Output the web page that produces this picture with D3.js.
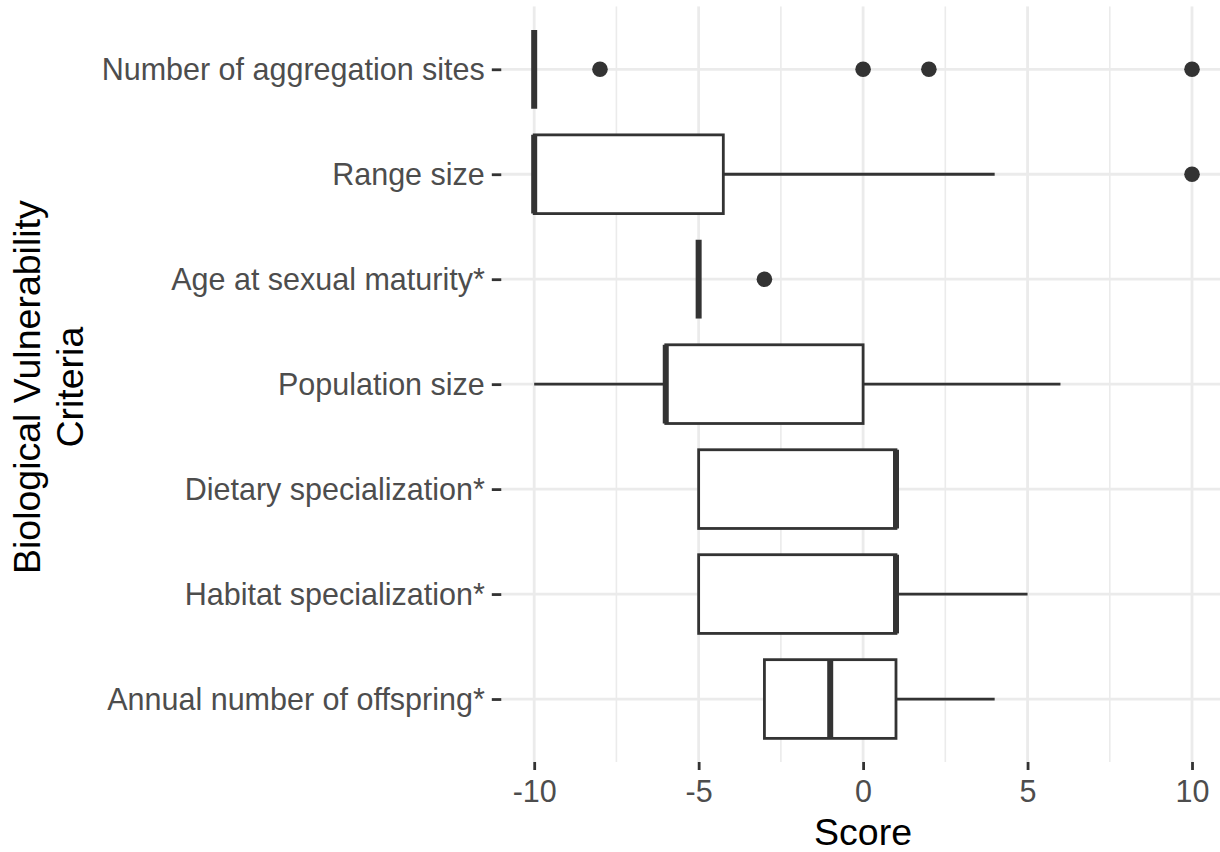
<!DOCTYPE html>
<html>
<head>
<meta charset="utf-8">
<script src="https://cdn.jsdelivr.net/npm/d3@7"></script>
<style>
  html, body { margin: 0; padding: 0; background: #ffffff; }
  svg { display: block; font-family: "Liberation Sans", Arial, sans-serif; }
</style>
</head>
<body>
<svg id="chart" width="1220" height="852"></svg>
<script>
// ---- data (top to bottom) ----
const categories = [
  "Number of aggregation sites",
  "Range size",
  "Age at sexual maturity*",
  "Population size",
  "Dietary specialization*",
  "Habitat specialization*",
  "Annual number of offspring*"
];
const whiskerLow  = [-10, -10, -5, -10, -5, -5, -3];
const q1          = [-10, -10, -5,  -6, -5, -5, -3];
const medians     = [-10, -10, -5,  -6,  1,  1, -1];
const q3          = [-10, -4.25, -5, 0,  1,  1,  1];
const whiskerHigh = [-10,   4, -5,   6,  1,  5,  4];
const outliers    = [[-8, 0, 2, 10], [10], [-3], [], [], [], []];
const xTicks      = [-10, -5, 0, 5, 10];
const xMinorTicks = [-7.5, -2.5, 2.5, 7.5];
const xDomain     = [-11, 11];
const xTitle = "Score";
const yTitleLines = ["Biological Vulnerability", "Criteria"];

// ---- layout ----
const panel = { left: 501.3, right: 1224.9, top: 6.3, bottom: 762 };
const svg = d3.select("#chart");

const x = d3.scaleLinear().domain(xDomain).range([panel.left, panel.right]);
const y = d3.scalePoint().domain(categories).range([panel.top, panel.bottom]).padding(0.6);
const boxH = 0.75 * y.step();

const rows = categories.map((c, i) => ({
  cat: c, lo: whiskerLow[i], q1: q1[i], med: medians[i], q3: q3[i], hi: whiskerHigh[i], out: outliers[i]
}));

const gridColor = "#EBEBEB";
const ink = "#333333";
const lw = 2.8;

svg.append("defs").append("clipPath").attr("id", "pclip")
  .append("rect").attr("x", panel.left).attr("y", panel.top)
  .attr("width", panel.right - panel.left).attr("height", panel.bottom - panel.top);

const pg = svg.append("g").attr("clip-path", "url(#pclip)");

// minor grid
pg.selectAll("line.minor").data(xMinorTicks).join("line")
  .attr("x1", d => x(d)).attr("x2", d => x(d))
  .attr("y1", panel.top).attr("y2", panel.bottom)
  .attr("stroke", gridColor).attr("stroke-width", 1.6);
// major grid vertical
pg.selectAll("line.majx").data(xTicks).join("line")
  .attr("x1", d => x(d)).attr("x2", d => x(d))
  .attr("y1", panel.top).attr("y2", panel.bottom)
  .attr("stroke", gridColor).attr("stroke-width", 2.8);
// major grid horizontal
pg.selectAll("line.majy").data(categories).join("line")
  .attr("x1", panel.left).attr("x2", panel.right)
  .attr("y1", d => y(d)).attr("y2", d => y(d))
  .attr("stroke", gridColor).attr("stroke-width", 2.8);

// boxplots
const bg = pg.selectAll("g.box").data(rows).join("g").attr("class", "box");
bg.filter(d => d.lo < d.q1).append("line")
  .attr("x1", d => x(d.lo)).attr("x2", d => x(d.q1))
  .attr("y1", d => y(d.cat)).attr("y2", d => y(d.cat))
  .attr("stroke", ink).attr("stroke-width", lw);
bg.filter(d => d.hi > d.q3).append("line")
  .attr("x1", d => x(d.q3)).attr("x2", d => x(d.hi))
  .attr("y1", d => y(d.cat)).attr("y2", d => y(d.cat))
  .attr("stroke", ink).attr("stroke-width", lw);
bg.append("rect")
  .attr("x", d => x(d.q1)).attr("width", d => x(d.q3) - x(d.q1))
  .attr("y", d => y(d.cat) - boxH / 2).attr("height", boxH)
  .attr("fill", "#ffffff").attr("stroke", ink).attr("stroke-width", lw)
  .attr("stroke-linejoin", "miter");
bg.append("line")
  .attr("x1", d => x(d.med)).attr("x2", d => x(d.med))
  .attr("y1", d => y(d.cat) - boxH / 2).attr("y2", d => y(d.cat) + boxH / 2)
  .attr("stroke", ink).attr("stroke-width", 6);
bg.selectAll("circle").data(d => d.out.map(v => ({ v, cat: d.cat }))).join("circle")
  .attr("cx", d => x(d.v)).attr("cy", d => y(d.cat)).attr("r", 7.8)
  .attr("fill", ink);

// x axis
const xAxis = d3.axisBottom(x).tickValues(xTicks).tickSize(8).tickPadding(10)
  .tickFormat(d => d < 0 ? "-" + Math.abs(d) : String(d));
const gx = svg.append("g").attr("transform", `translate(0,${panel.bottom})`).call(xAxis);
gx.select(".domain").remove();
gx.selectAll(".tick line").attr("stroke", ink).attr("stroke-width", lw);
gx.selectAll(".tick text").attr("fill", "#4D4D4D").attr("font-size", 30.5)
  .attr("dy", null).attr("y", 39.5);

// y axis
const yAxis = d3.axisLeft(y).tickSize(9.5).tickPadding(7);
const gy = svg.append("g").attr("transform", `translate(${panel.left},0)`).call(yAxis);
gy.select(".domain").remove();
gy.selectAll(".tick line").attr("stroke", ink).attr("stroke-width", lw);
gy.selectAll(".tick text").attr("fill", "#4D4D4D").attr("font-size", 30.5)
  .attr("dy", "0.35em");

// x title
svg.append("text")
  .attr("x", (panel.left + panel.right) / 2).attr("y", 845)
  .attr("text-anchor", "middle").attr("font-size", 37.5).attr("fill", "#000000")
  .text(xTitle);

// y title (two lines, rotated)
const yc = (panel.top + panel.bottom) / 2 + 3;
svg.append("g").selectAll("text").data(yTitleLines).join("text")
  .attr("transform", (d, i) => `translate(${39.5 + i * 43.7},${yc}) rotate(-90)`)
  .attr("text-anchor", "middle").attr("font-size", 37.5).attr("fill", "#000000")
  .text(d => d);
</script>
</body>
</html>
